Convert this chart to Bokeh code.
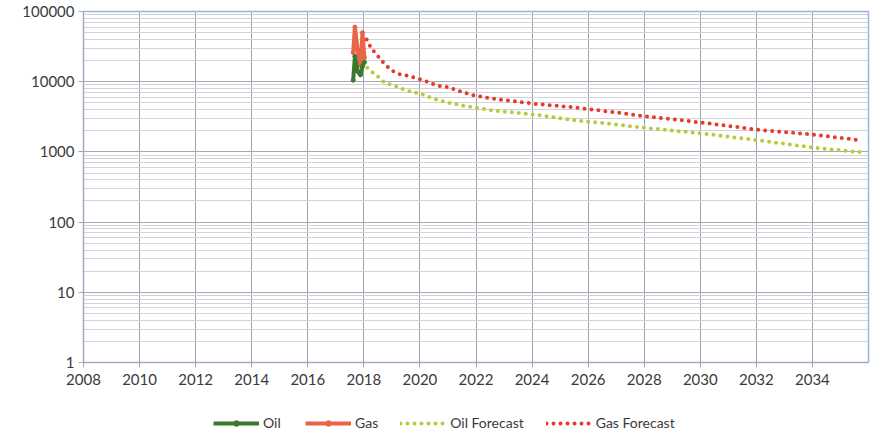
from bokeh.plotting import figure
from bokeh.layouts import column
from bokeh.models import (FixedTicker, NumeralTickFormatter, Legend, LegendItem, Range1d)
from bokeh.embed import file_html
from bokeh.resources import INLINE

# ---------------- data ----------------
oil_years = [2017.62, 2017.68, 2017.78, 2017.88, 2017.95, 2018.02]
oil_values = [10500, 23000, 14000, 12500, 16500, 19000]

gas_years = [2017.62, 2017.68, 2017.78, 2017.88, 2017.95, 2018.02]
gas_values = [26000, 60000, 28000, 17000, 50000, 22000]

oil_fc_years = [2017.92, 2018.12, 2018.33, 2018.54, 2018.75, 2019.02, 2019.28, 2019.52,
                2019.79, 2020.05, 2020.28, 2020.55, 2021.04, 2021.53, 2022.01, 2022.59,
                2024.09, 2025.58, 2026.40, 2028.14, 2030.13, 2032.13, 2034.12, 2035.86]
oil_fc_values = [18000, 15800, 13300, 11500, 9600, 9000, 8150, 7500,
                 7070, 6700, 6150, 5630, 5000, 4560, 4250, 3900,
                 3400, 2800, 2600, 2180, 1820, 1450, 1140, 980]

gas_fc_years = [2018.10, 2018.27, 2018.45, 2018.63, 2018.83, 2019.04, 2019.31, 2019.58,
                2019.81, 2020.09, 2020.32, 2020.59, 2021.06, 2021.32, 2021.56, 2021.83,
                2022.13, 2022.66, 2024.09, 2025.50, 2026.93, 2028.14, 2030.13, 2032.13,
                2034.12, 2035.79]
gas_fc_values = [40000, 29600, 24500, 20000, 16500, 14100, 12600, 12200,
                 11350, 10600, 9800, 8830, 8300, 7500, 7070, 6500,
                 6150, 5700, 4840, 4300, 3680, 3170, 2600, 2050,
                 1750, 1450]

x_ticks = [2008, 2010, 2012, 2014, 2016, 2018, 2020, 2022, 2024, 2026, 2028, 2030, 2032, 2034]
y_ticks = [1, 10, 100, 1000, 10000, 100000]
y_minor = [k * 10 ** d for d in range(0, 5) for k in range(2, 10)]

series_labels = ["Oil", "Gas", "Oil Forecast", "Gas Forecast"]

# ---------------- styles ----------------
FONT = "Lato"
TXT = "#3a3a3a"
OIL_C = "#3a7a2e"
GAS_C = "#ea6446"
OIL_FC_C = "#b6cc3c"
GAS_FC_C = "#e8392b"


def draw_series(fig):
    """Draw the four series on a figure; returns renderers for the legend."""
    r_oil_fc = fig.line(oil_fc_years, oil_fc_values, line_color=OIL_FC_C, line_width=4,
                        line_dash="0 7", line_cap="round")
    r_gas_fc = fig.line(gas_fc_years, gas_fc_values, line_color=GAS_FC_C, line_width=4,
                        line_dash="0 7", line_cap="round")
    r_gas_l = fig.line(gas_years, gas_values, line_color=GAS_C, line_width=4)
    r_gas_m = fig.scatter(gas_years, gas_values, marker="circle", size=4,
                          fill_color=GAS_C, line_color=GAS_C)
    r_oil_l = fig.line(oil_years, oil_values, line_color=OIL_C, line_width=4)
    r_oil_m = fig.scatter(oil_years, oil_values, marker="circle", size=4,
                          fill_color=OIL_C, line_color=OIL_C)
    return r_oil_l, r_oil_m, r_gas_l, r_gas_m, r_oil_fc, r_gas_fc


# ---------------- main chart ----------------
p = figure(frame_width=785, frame_height=351, y_axis_type="log",
           x_range=Range1d(2008, 2036), y_range=Range1d(1, 100000),
           output_backend="svg", toolbar_location=None,
           min_border_left=83, min_border_right=4, min_border_top=11,
           min_border_bottom=40,
           background_fill_color="white", border_fill_color="white")

p.outline_line_color = "#9db3e0"
p.outline_line_width = 1.5

p.xaxis.ticker = FixedTicker(ticks=x_ticks)
p.yaxis.ticker = FixedTicker(ticks=y_ticks, minor_ticks=y_minor)
p.yaxis.formatter = NumeralTickFormatter(format="0")

for ax in (p.xaxis, p.yaxis):
    ax.axis_line_color = "#a8a8b0"
    ax.major_tick_line_color = "#a8a8b0"
    ax.major_tick_out = 5
    ax.major_tick_in = 0
    ax.minor_tick_line_color = None
    ax.major_label_text_font = FONT
    ax.major_label_text_font_size = "15px"
    ax.major_label_text_color = TXT
p.xaxis.major_label_standoff = 6
p.yaxis.major_label_standoff = 4

p.xgrid.ticker = FixedTicker(ticks=x_ticks)
p.xgrid.grid_line_color = "#a0a0ac"
p.ygrid.grid_line_color = "#a8a8b4"
p.ygrid.minor_grid_line_color = "#d2d2d8"

draw_series(p)

# ---------------- legend strip ----------------
# A thin figure below the chart whose ranges exclude all data (so nothing is
# drawn in it) and that only hosts the legend.
lg = figure(frame_width=872, frame_height=34, x_range=Range1d(0, 1), y_range=Range1d(0, 1),
            x_axis_type=None, y_axis_type=None, output_backend="svg",
            toolbar_location=None, min_border=0, outline_line_color=None,
            background_fill_color="white", border_fill_color="white")
lg.xgrid.visible = False
lg.ygrid.visible = False

s_oil_l, s_oil_m, s_gas_l, s_gas_m, s_oil_fc, s_gas_fc = draw_series(lg)

legend = Legend(items=[
    LegendItem(label=series_labels[0], renderers=[s_oil_l, s_oil_m]),
    LegendItem(label=series_labels[1], renderers=[s_gas_l, s_gas_m]),
    LegendItem(label=series_labels[2], renderers=[s_oil_fc]),
    LegendItem(label=series_labels[3], renderers=[s_gas_fc]),
], orientation="horizontal", location=(213, 5),
    glyph_width=46, glyph_height=14, label_standoff=4, spacing=22,
    border_line_color=None, background_fill_alpha=0,
    label_text_font=FONT, label_text_font_size="14px", label_text_color=TXT,
    padding=2, margin=0)
lg.add_layout(legend, "center")

layout = column(p, lg, spacing=0)
open("out.html", "w").write(file_html(layout, INLINE))
